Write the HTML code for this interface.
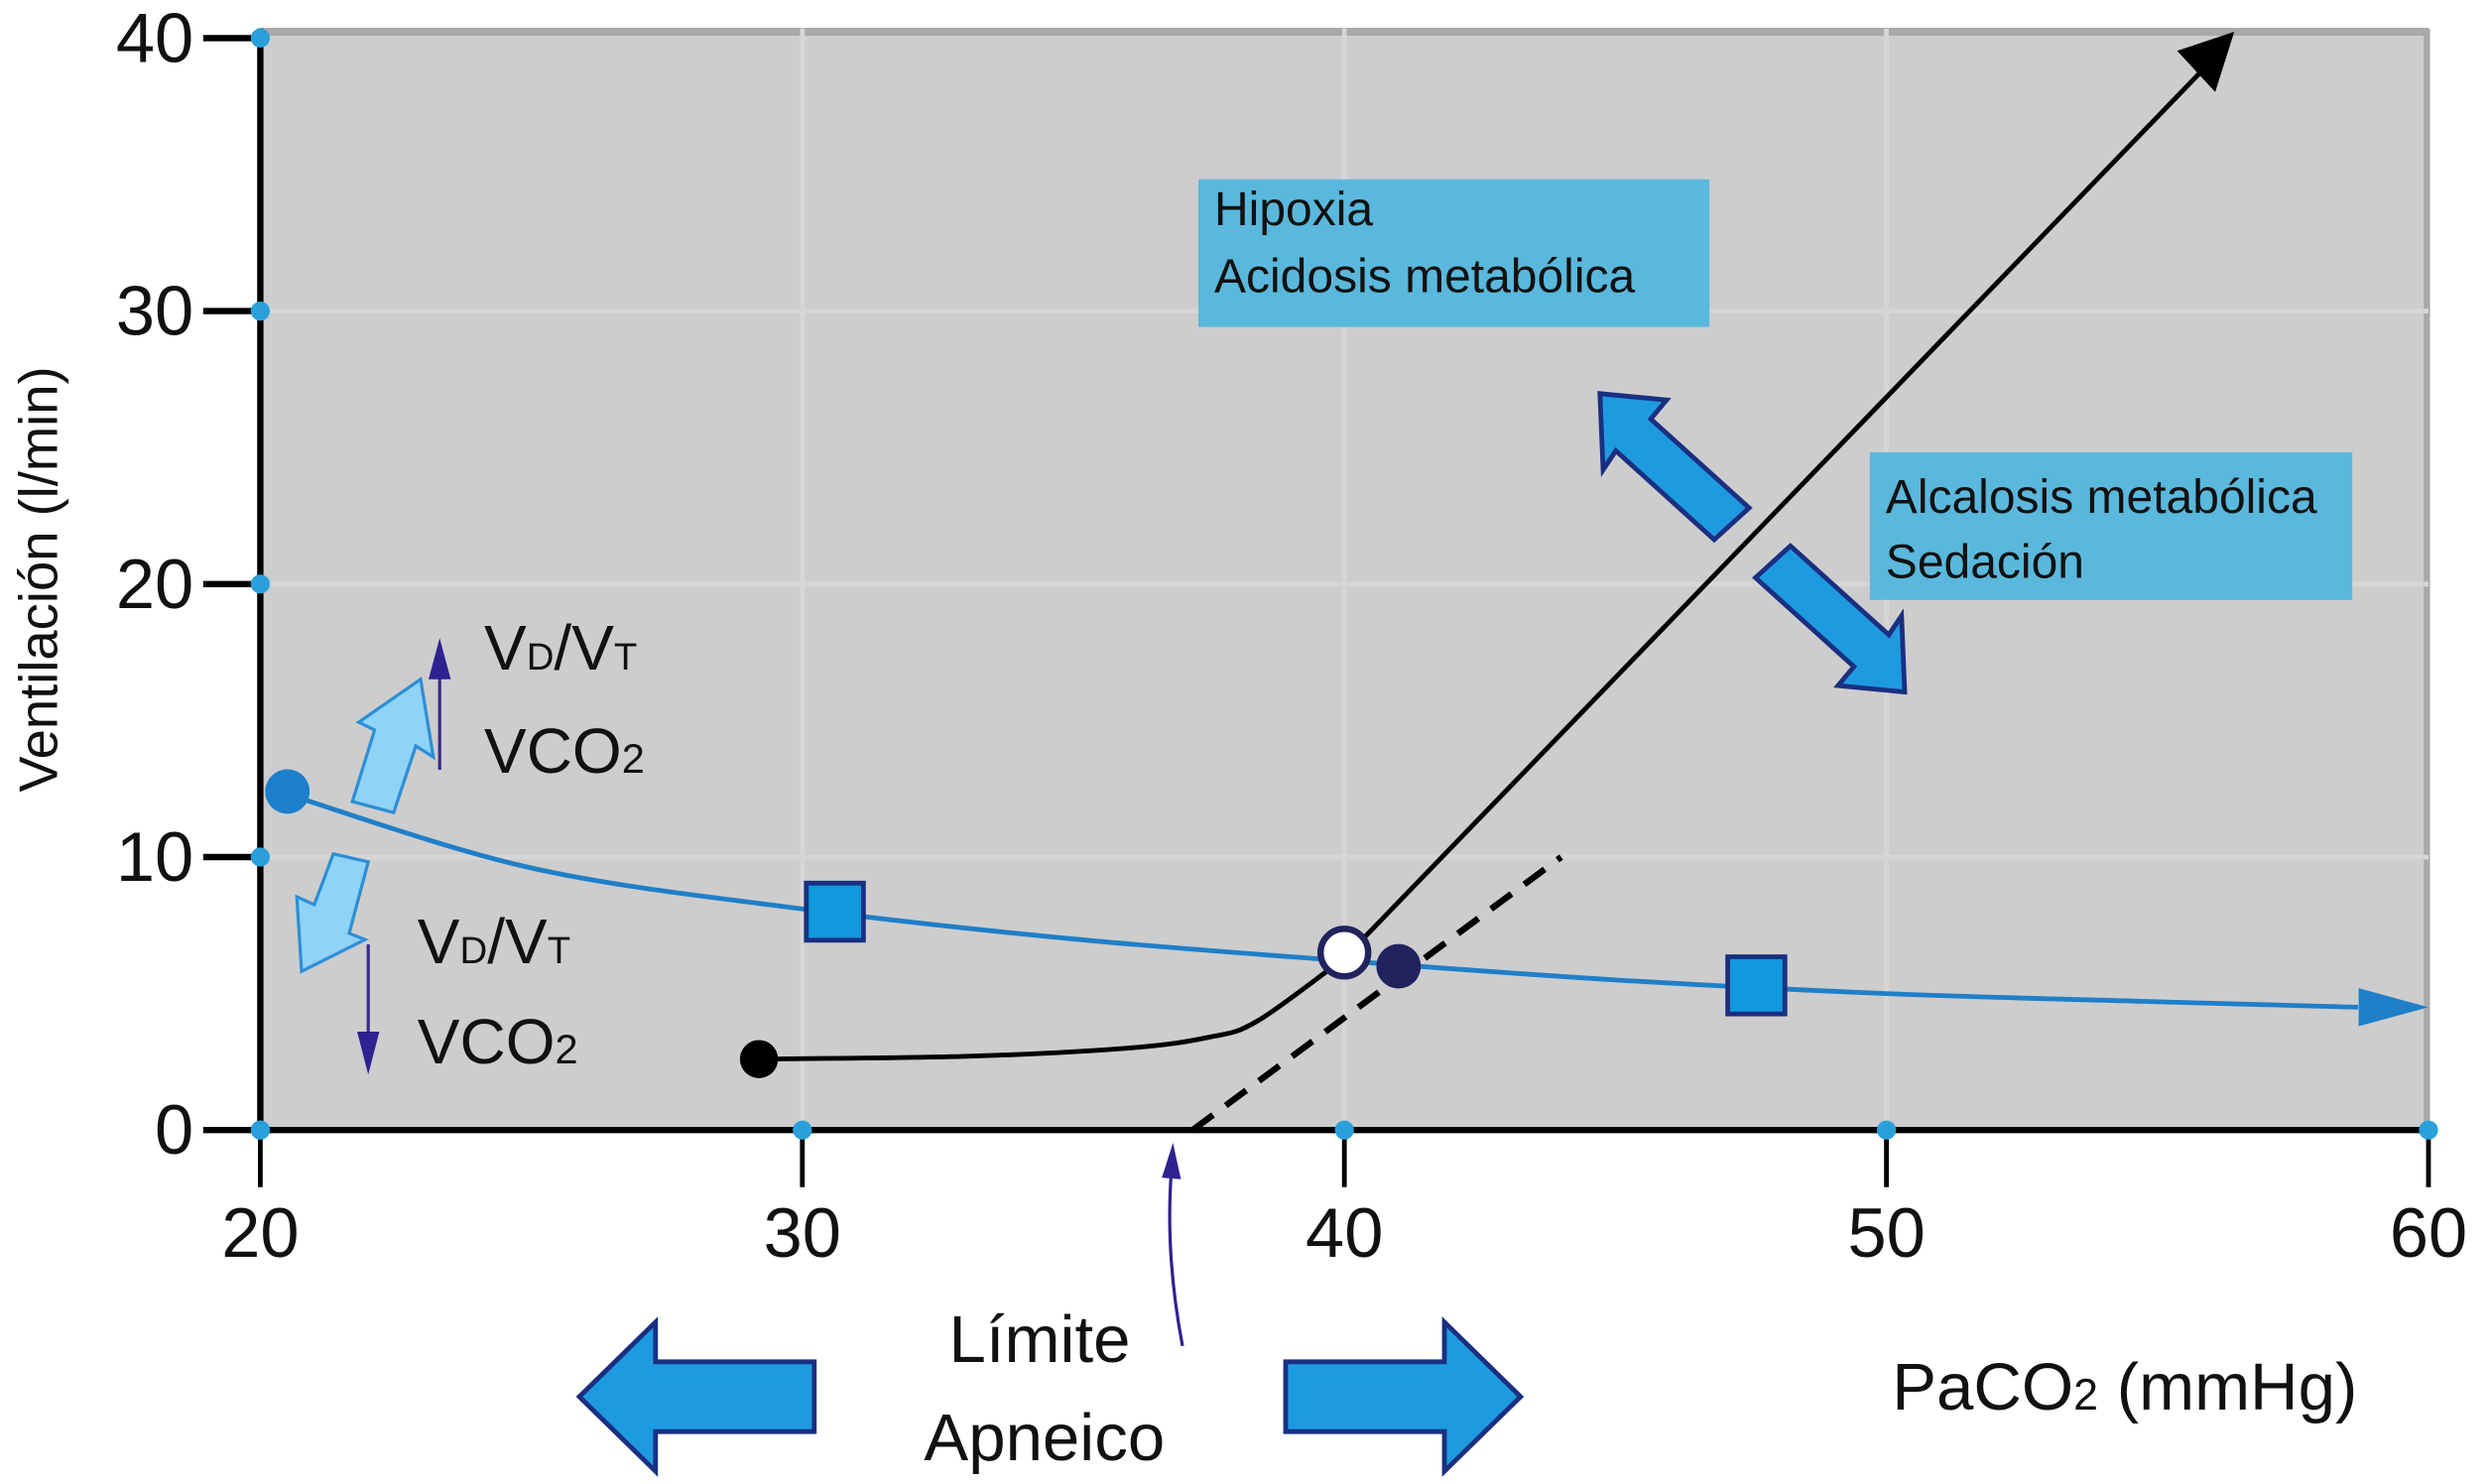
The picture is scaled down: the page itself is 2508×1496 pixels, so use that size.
<!DOCTYPE html>
<html><head><meta charset="utf-8"><style>
html,body{margin:0;padding:0;background:#fff}
svg{display:block}
text{font-family:"Liberation Sans","DejaVu Sans",sans-serif}
</style></head><body>
<svg id="chart" width="2508" height="1496" viewBox="0 0 1567.5 935" preserveAspectRatio="none" xmlns="http://www.w3.org/2000/svg">
<rect x="164" y="18" width="1366" height="694" fill="#cdcdcd"/>
<line x1="164" y1="20" x2="1530" y2="20" stroke="#a9a9ab" stroke-width="5"/>
<line x1="1529" y1="18" x2="1529" y2="712" stroke="#a9a9ab" stroke-width="4"/>
<g id="grid"></g>
<g id="axes"></g>
<g id="series"></g>
<g>
<rect x="755" y="113" width="322" height="93" fill="#5ab8dc"/>
<text x="765" y="142" font-size="30" fill="#111">Hipoxia</text>
<text x="765" y="184" font-size="30" fill="#111">Acidosis metabólica</text>
</g>
<g>
<rect x="1178" y="285" width="304" height="93" fill="#5ab8dc"/>
<text x="1188" y="323" font-size="30" fill="#111">Alcalosis metabólica</text>
<text x="1188" y="364" font-size="30" fill="#111">Sedación</text>
</g>
<path d="M1008,248 L1050,252 L1040,264 L1102,320 L1080,340 L1018,284 L1010,296 Z" fill="#1e9be0" stroke="#1a2f80" stroke-width="3"/>
<path d="M1200,436 L1158,432 L1168,420 L1106,364 L1128,344 L1190,400 L1198,388 Z" fill="#1e9be0" stroke="#1a2f80" stroke-width="3"/>
<path d="M222,505 L236,460 L226,455 L265,428 L273,477 L262,470 L248,512 Z" fill="#8fd3f6" stroke="#2d8fd5" stroke-width="2"/>
<path d="M232,543 L220,588 L230,592 L190,612 L187,565 L198,570 L210,538 Z" fill="#8fd3f6" stroke="#2d8fd5" stroke-width="2"/>
<g><line x1="277" y1="485" x2="277" y2="425" stroke="#3a2a8a" stroke-width="2"/><path d="M270,428 L277,402 L284,428 Z" fill="#2e2290"/></g>
<g><line x1="232" y1="595" x2="232" y2="655" stroke="#3a2a8a" stroke-width="2"/><path d="M225,650 L232,677 L239,650 Z" fill="#2e2290"/></g>
<text x="305" y="422" font-size="40" fill="#111">V<tspan font-size="24">D</tspan>/V<tspan font-size="24">T</tspan></text>
<text x="305" y="487" font-size="40" fill="#111">VCO<tspan font-size="26">2</tspan></text>
<text x="263" y="607" font-size="40" fill="#111">V<tspan font-size="24">D</tspan>/V<tspan font-size="24">T</tspan></text>
<text x="263" y="670" font-size="40" fill="#111">VCO<tspan font-size="26">2</tspan></text>
<text transform="translate(36,365) rotate(-90)" text-anchor="middle" font-size="34" fill="#111">Ventilación (l/min)</text>
<text x="1192" y="888" font-size="42" fill="#111">PaCO<tspan font-size="28">2</tspan> (mmHg)</text>
<path d="M745,848 Q734,790 738,738" fill="none" stroke="#2e2290" stroke-width="2"/>
<path d="M732,742 L739,720 L744,743 Z" fill="#2e2290"/>
<text x="655" y="858" text-anchor="middle" font-size="42" fill="#111">Límite</text>
<text x="658" y="920" text-anchor="middle" font-size="42" fill="#111">Apneico</text>
<path d="M365,880 L413,833 L413,858 L513,858 L513,902 L413,902 L413,927 Z" fill="#1e9be0" stroke="#1a2f80" stroke-width="3"/>
<path d="M958,880 L910,833 L910,858 L810,858 L810,902 L910,902 L910,927 Z" fill="#1e9be0" stroke="#1a2f80" stroke-width="3"/>
</svg>
<script>
const xTicks=[20,30,40,50,60];
const yTicks=[0,10,20,30,40];
const blueX=[20.5,25,30,35,40,45,50,55,60];
const blueY=[12.3,9.6,8.1,7.0,6.2,5.5,5.0,4.7,4.5];
const blackX=[29.2,33,36,37.5,38.4,40,56.3];
const blackY=[2.6,2.7,3.0,3.4,4.0,6.3,40];
const dashX=[37.2,44];
const dashY=[0,10];
const squareX=[30.6,47.6];
const squareY=[8.0,5.3];
const ns="http://www.w3.org/2000/svg";
const X=v=>164+(v-20)*34.15;
const Y=v=>712-v*17.2;
function mk(tag,attrs,parent){const e=document.createElementNS(ns,tag);for(const k in attrs)e.setAttribute(k,attrs[k]);document.getElementById(parent).appendChild(e);return e;}
xTicks.slice(1,-1).forEach(t=>{const l=mk('line',{x1:X(t),y1:18,x2:X(t),y2:712,stroke:'#d6d6d6','stroke-width':3},'grid');

});
yTicks.slice(1,-1).forEach(t=>{const l=mk('line',{x1:164,y1:Y(t),x2:1530,y2:Y(t),stroke:'#d6d6d6','stroke-width':3},'grid');

});
mk('line',{x1:164,y1:Y(0),x2:1530,y2:Y(0),stroke:'#000','stroke-width':4},'axes');
mk('line',{x1:164,y1:18,x2:164,y2:714,stroke:'#000','stroke-width':4},'axes');
xTicks.forEach(t=>{mk('line',{x1:X(t),y1:712,x2:X(t),y2:748,stroke:'#000','stroke-width':3},'axes');
mk('circle',{cx:X(t),cy:712,r:6,fill:'#2aa0da'},'axes');
const tx=mk('text',{x:X(t),y:792,'text-anchor':'middle','font-size':44,fill:'#111'},'axes');tx.textContent=t;

});
yTicks.forEach(t=>{mk('line',{x1:128,y1:Y(t),x2:164,y2:Y(t),stroke:'#000','stroke-width':4},'axes');
mk('circle',{cx:164,cy:Y(t),r:6,fill:'#2aa0da'},'axes');
const tx=mk('text',{x:122,y:Y(t)+15,'text-anchor':'end','font-size':44,fill:'#111'},'axes');tx.textContent=t;

});
function smooth(xs,ys){const p=xs.map((x,i)=>[X(x),Y(ys[i])]);let d='M'+p[0][0]+','+p[0][1];
for(let i=0;i<p.length-1;i++){const p0=p[i-1]||p[i],p1=p[i],p2=p[i+1],p3=p[i+2]||p2;
d+=' C'+(p1[0]+(p2[0]-p0[0])/6)+','+(p1[1]+(p2[1]-p0[1])/6)+' '+(p2[0]-(p3[0]-p1[0])/6)+','+(p2[1]-(p3[1]-p1[1])/6)+' '+p2[0]+','+p2[1];}return d;}
const dash=mk('line',{x1:X(dashX[0]),y1:Y(dashY[0]),x2:X(dashX[1]),y2:Y(dashY[1]),stroke:'#000','stroke-width':4,'stroke-dasharray':'16,10'},'series');


const blue=mk('path',{d:smooth(blueX.slice(0,-1).concat([blueX[8]-1.3]),blueY.slice(0,-1).concat([blueY[8]])),fill:'none',stroke:'#1f7fc8','stroke-width':3},'series');


mk('path',{d:'M'+X(60)+','+Y(blueY[8])+' L'+(X(60)-44)+','+(Y(blueY[8])-12)+' L'+(X(60)-44)+','+(Y(blueY[8])+12)+' Z',fill:'#1f7fc8'},'series');
const nLin=blackX.length-1;
const ex=X(blackX[nLin]),ey=Y(blackY[nLin]);
const black=mk('path',{d:smooth(blackX.slice(0,nLin),blackY.slice(0,nLin))+' L'+(ex-10)+','+(ey+14),fill:'none',stroke:'#000','stroke-width':3},'series');


const ah=mk('path',{d:'M'+(ex+4)+','+(ey-4)+' L'+(ex-32)+','+(ey+8)+' L'+(ex-8)+','+(ey+34)+' Z',fill:'#000'},'series');


squareX.forEach((x,i)=>{const s=mk('rect',{x:X(x)-18,y:Y(squareY[i])-18,width:36,height:36,fill:'#1199dd',stroke:'#1a2f80','stroke-width':3},'series');

});
const c1=mk('circle',{cx:X(blueX[0]),cy:Y(12.4),r:14,fill:'#1b7fcb'},'series');


const c2=mk('circle',{cx:X(blackX[0]),cy:Y(blackY[0]),r:12,fill:'#000'},'series');


const c3=mk('circle',{cx:X(41),cy:Y(6.0),r:14,fill:'#22225e'},'series');


const c4=mk('circle',{cx:X(40),cy:Y(6.5),r:15,fill:'#fff',stroke:'#22225e','stroke-width':4},'series');


</script>
</body></html>
